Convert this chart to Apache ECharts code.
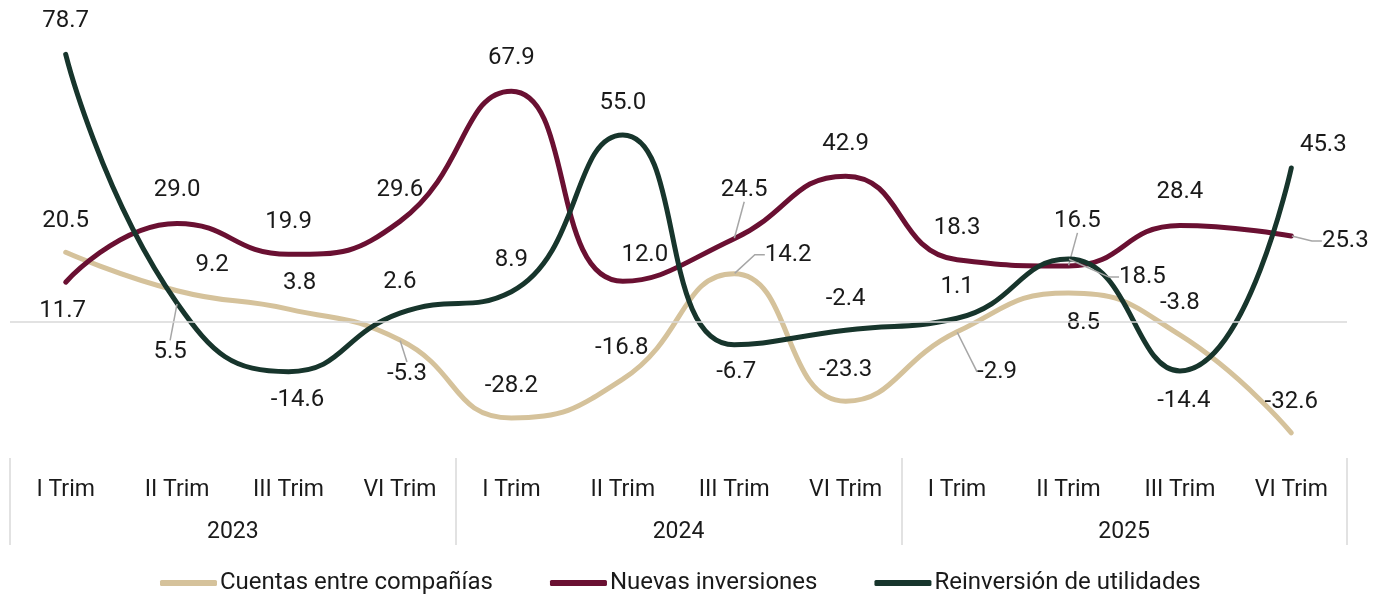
<!DOCTYPE html>
<html>
<head>
<meta charset="utf-8">
<script src="https://cdn.jsdelivr.net/npm/echarts@6/dist/echarts.min.js"></script>
<style>
  html, body { margin: 0; padding: 0; background: #ffffff; }
  #chart { width: 1380px; height: 596px; }
</style>
</head>
<body>
<div id="chart"></div>
<script>
  // datos
  const quarters = ['I Trim', 'II Trim', 'III Trim', 'VI Trim', 'I Trim', 'II Trim', 'III Trim', 'VI Trim', 'I Trim', 'II Trim', 'III Trim', 'VI Trim'];
  const years = ['2023', '2024', '2025'];
  const cuentas = [20.5, 9.2, 3.8, -5.3, -28.2, -16.8, 14.2, -23.3, -2.9, 8.5, -3.8, -32.6];
  const nuevas = [11.7, 29.0, 19.9, 29.6, 67.9, 12.0, 24.5, 42.9, 18.3, 16.5, 28.4, 25.3];
  const reinversion = [78.7, 5.5, -14.6, 2.6, 8.9, 55.0, -6.7, -2.4, 1.1, 18.5, -14.4, 45.3];

  // desplazamiento de etiquetas [dx, dy, guia]
  const offCuentas = [[0, -31], [35, -26], [11, -26], [7, 34, 1], [0, -32], [-1, -31], [54, -19, 2], [0, -31], [40, 40, 1], [15, 30], [0, -32], [0, -31]];
  const offNuevas = [[-3, 29], [0, -33], [0, -32], [0, -31], [0, -33], [22, -26], [10, -49, 1], [0, -32], [0, -32], [9, -45, 1], [0, -33], [54, 5, 2]];
  const offReinv = [[0, -33], [-7, 49, 1], [9, 28], [0, -31], [0, -32], [0, -32], [2, 27], [0, -31], [0, -31], [74, 18, 2], [4, 30], [32, -23]];

  const font = 'Roboto, "Noto Sans", sans-serif';
  const myChart = echarts.init(document.getElementById('chart'));

  const makeSeries = (name, values, color, offs) => ({
    name: name,
    type: 'line',
    smooth: 0.5,
    symbol: 'circle',
    symbolSize: 1,
    data: values.map((v, i) => {
      const o = offs[i];
      const item = { value: v };
      if (o[2]) {
        item.labelLine = { show: true, length2: o[2] === 2 ? 10 : 0 };
      }
      return item;
    }),
    lineStyle: { color: color, width: 5, cap: 'round' },
    itemStyle: { color: color },
    label: {
      show: true,
      position: 'inside',
      color: '#1a1a1a',
      fontFamily: font,
      fontSize: 24,
      formatter: (p) => p.value.toFixed(1),
    },
    labelLine: {
      show: false,
      lineStyle: { color: '#a6a6a6', width: 1.5 },
    },
    labelLayout: (params) => {
      const o = offs[params.dataIndex];
      return { dx: o[0], dy: o[1] };
    },
    emphasis: { disabled: true },
  });

  const series = [
    makeSeries('Cuentas entre compañías', cuentas, '#d5c29b', offCuentas),
    makeSeries('Nuevas inversiones', nuevas, '#6a1032', offNuevas),
    makeSeries('Reinversión de utilidades', reinversion, '#17352c', offReinv),
  ];
  series[0].markLine = {
    silent: true,
    symbol: 'none',
    label: { show: false },
    lineStyle: { color: '#d9d9d9', width: 1.5, type: 'solid' },
    data: [{ yAxis: 0 }],
  };
  series[0].z = 2;
  series[1].z = 3;
  series[2].z = 4;

  myChart.setOption({
    animation: false,
    tooltip: { show: false },
    legend: {
      left: 155,
      top: 566,
      icon: 'roundRect',
      itemWidth: 57,
      itemHeight: 6,
      itemGap: 57,
      textStyle: { color: '#1a1a1a', fontFamily: font, fontSize: 24, padding: [0, 0, 0, -2] },
      data: ['Cuentas entre compañías', 'Nuevas inversiones', 'Reinversión de utilidades'],
    },
    grid: {
      top: 16,
      left: 10,
      right: 33,
      bottom: 138,
      containLabel: false,
    },
    xAxis: [
      {
        type: 'category',
        data: quarters,
        position: 'bottom',
        boundaryGap: true,
        axisLine: { show: false },
        axisTick: { show: false },
        axisLabel: {
          interval: 0,
          margin: 21,
          color: '#1a1a1a',
          fontFamily: font,
          fontSize: 23,
        },
      },
      {
        type: 'category',
        data: years,
        position: 'bottom',
        boundaryGap: true,
        axisLine: { show: false },
        axisTick: {
          show: true,
          interval: 0,
          length: 87,
          lineStyle: { color: '#d9d9d9', width: 1.5 },
        },
        axisLabel: {
          interval: 0,
          margin: 63,
          color: '#1a1a1a',
          fontFamily: font,
          fontSize: 23,
        },
      },
    ],
    yAxis: {
      type: 'value',
      min: -40,
      max: 90,
      show: false,
    },
    series: series,
  });

  window.addEventListener('resize', function () {
    myChart && myChart.resize();
  });
</script>
</body>
</html>
